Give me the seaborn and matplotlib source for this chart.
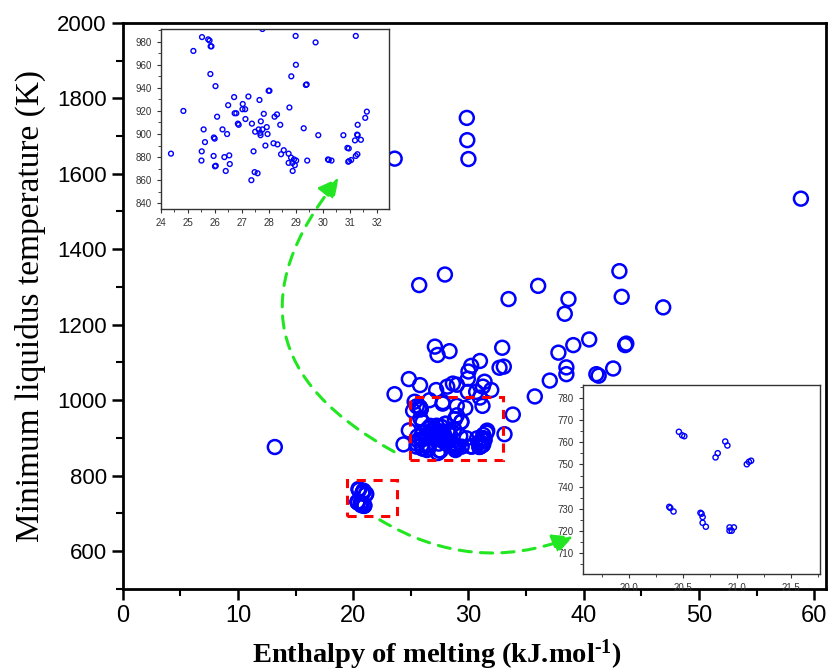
import numpy as np
import pandas as pd
import matplotlib
matplotlib.use("Agg")
import matplotlib.pyplot as plt
from matplotlib.patches import Rectangle, FancyArrowPatch
from matplotlib.ticker import MultipleLocator, FormatStrFormatter
import seaborn as sns

# points outside the two zoomed clusters (kJ/mol, K)
main_h = [13.2, 23.6, 29.86, 29.9, 30.0, 58.85, 25.73, 27.96, 36.05, 33.48,
          38.68, 38.36, 43.1, 43.3, 46.9, 27.09, 27.32, 28.36, 32.93, 32.7,
          33.07, 37.81, 39.1, 40.48, 43.7, 43.6, 38.5, 38.5, 37.06, 41.1,
          41.3, 42.56, 35.76, 23.59, 24.83, 25.8, 30.24, 31.0, 30.0, 29.95,
          31.4, 31.25, 31.98, 27.2, 28.16, 28.65, 29.0, 33.85, 33.13, 29.95,
          30.67, 31.0, 25.33, 26.63, 27.78]
main_t = [876, 1640, 1748, 1689, 1639, 1534, 1305, 1333, 1303, 1268,
          1268, 1229, 1342, 1274, 1246, 1142, 1120, 1130, 1139, 1086,
          1089, 1126, 1146, 1161, 1150, 1146, 1087, 1069, 1052, 1069,
          1065, 1084, 1010, 1016, 1056, 1040, 1091, 1104, 1076, 1057,
          1049, 1036, 1027, 1027, 1036, 1044, 1041, 962, 910, 1022,
          1022, 1007, 996, 1000, 995]

# cluster around 25-32 kJ/mol (upper inset)
mid_h = [24.37, 24.83, 25.20, 25.52, 25.75, 25.80, 25.84, 25.87, 25.83, 26.02,
         25.58, 25.63, 25.51, 25.50, 25.96, 25.99, 25.95, 26.00, 26.03, 26.08,
         26.28, 26.45, 26.49, 26.35, 26.53, 26.55, 26.40, 26.71, 26.73, 26.79,
         26.85, 26.88, 27.03, 27.02, 27.12, 27.13, 27.24, 27.37, 27.35, 27.43,
         27.47, 27.58, 27.49, 27.62, 27.65, 27.70, 27.69, 27.68, 27.76, 27.81,
         27.76, 27.87, 27.92, 27.95, 27.99, 28.02, 28.21, 28.30, 28.17, 28.32,
         28.42, 28.45, 28.55, 28.76, 28.73, 28.73, 28.82, 28.83, 28.87, 28.88,
         28.93, 28.96, 29.01, 28.99, 29.00, 29.37, 29.40, 29.29, 29.42, 29.73,
         29.83, 30.19, 30.22, 30.32, 30.76, 30.91, 30.96, 30.94, 30.97, 31.05,
         31.22, 31.28, 31.19, 31.27, 31.29, 31.29, 31.41, 31.57, 31.63, 31.22]
mid_t = [883, 920, 972, 984, 982, 981, 976, 976, 952, 941.5,
         904, 893, 885, 877, 897, 896, 881, 872, 872.5, 915,
         904, 900, 925, 880, 881.5, 874, 868, 932, 918, 918,
         909, 908, 926, 921.5, 921.5, 913, 932.5, 909, 860, 885,
         867, 866, 902, 904, 929.5, 911, 899, 901, 904, 917.5,
         991, 890, 906, 900, 937.5, 937.5, 915, 917, 892, 891,
         908, 882.5, 886, 923, 883, 875, 879.6, 950, 875, 868,
         878, 873, 877, 985, 960, 942.5, 943, 905, 877, 979.4,
         899, 878, 877.5, 877, 899, 888, 887.5, 876, 876.5, 877.5,
         881, 882.5, 894.5, 899.5, 899, 908, 895, 914, 919.4, 985]

# cluster around 20.5-21 kJ/mol (lower inset)
low_h = [20.46, 20.49, 20.51, 20.37, 20.38, 20.41, 20.66, 20.67, 20.68, 20.68,
         20.71, 20.80, 20.82, 20.89, 20.91, 20.93, 20.93, 20.95, 20.97, 21.09,
         21.11, 21.13]
low_t = [764.8, 763.2, 762.8, 730.8, 730.3, 728.7, 728.1, 727.7, 726.2, 723.6,
         721.8, 753.2, 755.1, 760.4, 758.6, 721.5, 720.0, 720.0, 721.5, 750.1,
         751.2, 751.7]

all_df = pd.DataFrame({"h": main_h + mid_h + low_h, "t": main_t + mid_t + low_t})
mid_df = pd.DataFrame({"h": mid_h, "t": mid_t})
low_df = pd.DataFrame({"h": low_h, "t": low_t})

sns.set_style("ticks")
plt.rcParams["font.family"] = ["Liberation Sans", "DejaVu Sans"]
plt.rcParams["mathtext.fontset"] = "custom"
plt.rcParams["mathtext.rm"] = "Liberation Serif:bold"
plt.rcParams["mathtext.bf"] = "Liberation Serif:bold"
plt.rcParams["mathtext.default"] = "bf"

fig = plt.figure(figsize=(8.29, 6.7), dpi=100)
ax = fig.add_axes([0.148, 0.121, 0.848, 0.845])

sns.scatterplot(data=all_df, x="h", y="t", ax=ax, marker="o", s=100,
                color="blue", facecolor="none", edgecolor="blue",
                linewidth=1.8, zorder=3)

ax.set_xlim(0, 61)
ax.set_ylim(500, 2000)
ax.xaxis.set_major_locator(MultipleLocator(10))
ax.xaxis.set_minor_locator(MultipleLocator(5))
ax.yaxis.set_major_locator(MultipleLocator(200))
ax.yaxis.set_minor_locator(MultipleLocator(100))
ax.tick_params(which="major", direction="out", length=8, width=1.8,
               labelsize=16, colors="black", top=False, right=False)
ax.tick_params(which="minor", direction="out", length=5, width=1.5,
               colors="black", top=False, right=False)
for lbl in ax.get_xticklabels():
    lbl.set_fontsize(17)
for sp in ax.spines.values():
    sp.set_linewidth(2)
    sp.set_color("black")

ax.set_xlabel(r"Enthalpy of melting (kJ.mol$^{\text{-}1}$)", fontsize=20.5,
              fontweight="bold", family="Liberation Serif", color="black")
ax.xaxis.set_label_coords(0.447, -0.085)
ax.set_ylabel("Minimum liquidus temperature (K)", fontsize=24,
              family="Liberation Serif", color="black", labelpad=8)

# red dashed boxes around the clusters
ax.add_patch(Rectangle((19.5, 693), 4.3, 95, fill=False, edgecolor="red",
                       linestyle=(0, (3, 2.5)), linewidth=2.2, zorder=4))
ax.add_patch(Rectangle((24.9, 841), 8.1, 168, fill=False, edgecolor="red",
                       linestyle=(0, (3, 2.5)), linewidth=2.2, zorder=4))


def style_inset(a):
    for sp in a.spines.values():
        sp.set_linewidth(1.0)
        sp.set_color("#333333")
    a.tick_params(which="major", direction="out", length=3, width=0.8,
                  labelsize=7, colors="#333333", top=False, right=False)
    a.tick_params(which="minor", direction="out", length=2, width=0.6,
                  top=False, right=False)
    a.set_xlabel("")
    a.set_ylabel("")


ins1 = fig.add_axes([0.1942, 0.688, 0.275, 0.2687])
sns.scatterplot(data=mid_df, x="h", y="t", ax=ins1, marker="o", s=12,
                color="blue", facecolor="none", edgecolor="blue", linewidth=1.0)
ins1.set_xlim(24, 32.45)
ins1.set_ylim(835, 991)
ins1.xaxis.set_major_locator(MultipleLocator(1))
ins1.xaxis.set_minor_locator(MultipleLocator(0.5))
ins1.yaxis.set_major_locator(MultipleLocator(20))
ins1.yaxis.set_minor_locator(MultipleLocator(10))
style_inset(ins1)

ins2 = fig.add_axes([0.7033, 0.1433, 0.2859, 0.2821])
sns.scatterplot(data=low_df, x="h", y="t", ax=ins2, marker="o", s=14,
                color="blue", facecolor="none", edgecolor="blue", linewidth=1.0)
ins2.set_xlim(19.57, 21.77)
ins2.set_ylim(700.4, 786)
ins2.xaxis.set_major_locator(MultipleLocator(0.5))
ins2.xaxis.set_minor_locator(MultipleLocator(0.25))
ins2.xaxis.set_major_formatter(FormatStrFormatter("%.1f"))
ins2.yaxis.set_major_locator(MultipleLocator(10))
ins2.yaxis.set_minor_locator(MultipleLocator(5))
style_inset(ins2)

# green dashed curved arrows pointing to the insets
green = "#22e622"
arr1 = FancyArrowPatch((23.76, 860), (18.9, 1595), transform=ax.transData,
                       connectionstyle="arc3,rad=-0.6",
                       arrowstyle="-|>,head_length=12,head_width=6",
                       color=green, linestyle=(0, (4, 3)), linewidth=2.2, zorder=10)
arr2 = FancyArrowPatch((22.1, 687), (39.3, 641), transform=ax.transData,
                       connectionstyle="arc3,rad=0.25",
                       arrowstyle="-|>,head_length=12,head_width=6",
                       color=green, linestyle=(0, (4, 3)), linewidth=2.2, zorder=10)
fig.add_artist(arr1)
fig.add_artist(arr2)

fig.savefig("out.png", dpi=100)
